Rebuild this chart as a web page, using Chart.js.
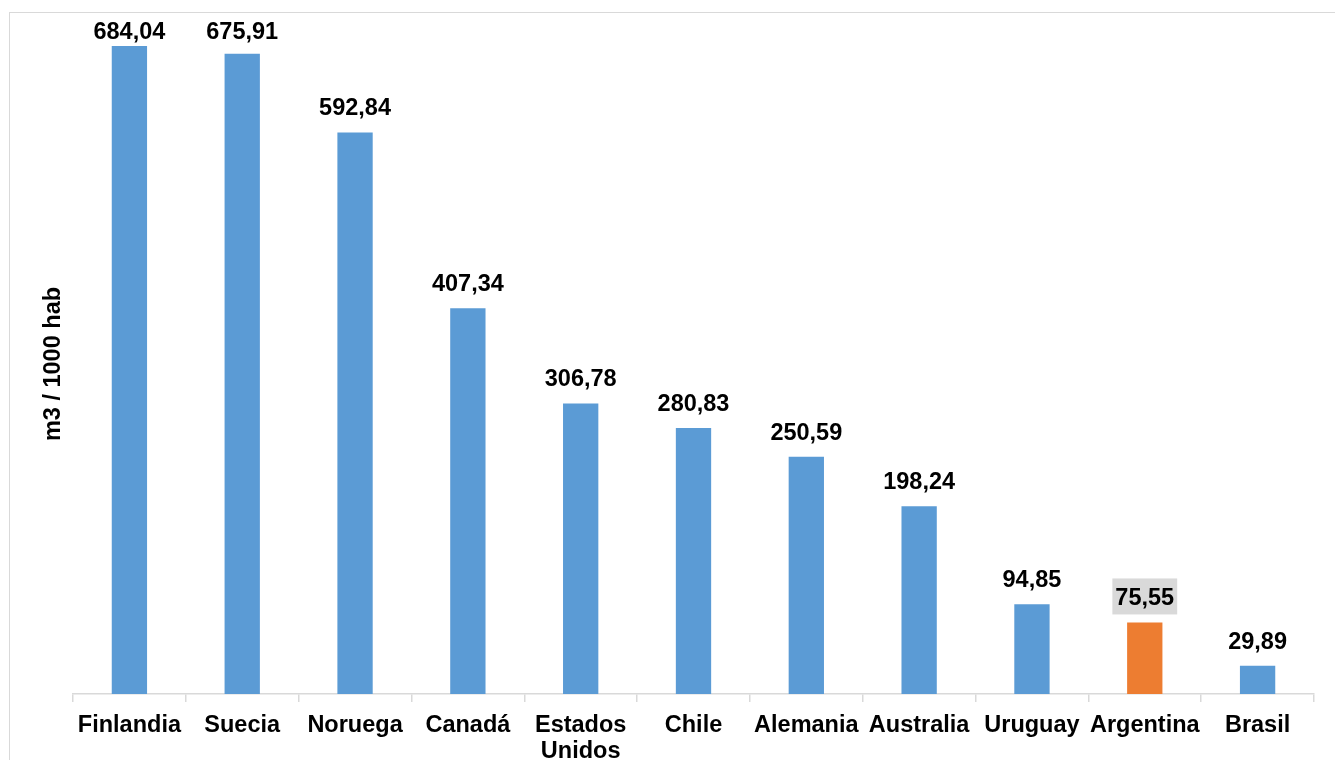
<!DOCTYPE html>
<html>
<head>
<meta charset="utf-8">
<script src="https://cdn.jsdelivr.net/npm/chart.js@4/dist/chart.umd.min.js"></script>
<style>
  html, body { margin: 0; padding: 0; background: #fff; }
  canvas { display: block; }
</style>
</head>
<body>
<canvas id="chart" width="1335" height="760"></canvas>
<script>
const countries = ['Finlandia', 'Suecia', 'Noruega', 'Canadá', ['Estados', 'Unidos'], 'Chile', 'Alemania', 'Australia', 'Uruguay', 'Argentina', 'Brasil'];
const values = [684.04, 675.91, 592.84, 407.34, 306.78, 280.83, 250.59, 198.24, 94.85, 75.55, 29.89];
const highlighted = 'Argentina';
const yTitle = 'm3 / 1000 hab';

const FONT = '"Liberation Sans", Arial, sans-serif';
const BLUE = '#5B9BD5';
const ORANGE = '#ED7D31';
const LIGHT = '#D9D9D9';

const barColors = countries.map(c => c === highlighted ? ORANGE : BLUE);

function fmt(v) {
    return v.toFixed(2).replace('.', ',');
}

// etiquetas de valor, titulo del eje y marco
const extras = {
    id: 'extras',
    beforeDraw(chart) {
        const ctx = chart.ctx;
        ctx.save();
        ctx.strokeStyle = LIGHT;
        ctx.lineWidth = 1;
        ctx.strokeRect(9.5, 12.5, 2000, 2000);
        ctx.restore();
    },
    afterDraw(chart) {
        const ctx = chart.ctx;
        const meta = chart.getDatasetMeta(0);
        ctx.save();
        ctx.font = 'bold 23.5px ' + FONT;
        ctx.textAlign = 'center';
        ctx.textBaseline = 'alphabetic';
        meta.data.forEach((bar, i) => {
            const text = fmt(values[i]);
            const y = Math.max(bar.y - 17, 39);
            if (countries[i] === highlighted) {
                const w = ctx.measureText(text).width + 6;
                ctx.fillStyle = LIGHT;
                ctx.fillRect(bar.x - w / 2, y - 27, w, 36);
            }
            ctx.fillStyle = '#000';
            ctx.fillText(text, bar.x, y);
        });

        // titulo del eje y
        ctx.translate(54, 364);
        ctx.rotate(-Math.PI / 2);
        ctx.textBaseline = 'middle';
        ctx.fillText(yTitle, 0, 0);
        ctx.restore();
    }
};

new Chart(document.getElementById('chart'), {
    type: 'bar',
    data: {
        labels: countries,
        datasets: [{
            data: values,
            backgroundColor: barColors,
            borderWidth: 0,
            barPercentage: 0.313,
            categoryPercentage: 1
        }]
    },
    options: {
        responsive: false,
        animation: false,
        layout: { padding: { left: 73, right: 21, top: 31, bottom: 0 } },
        plugins: {
            legend: { display: false },
            tooltip: { enabled: false }
        },
        scales: {
            y: { display: false, min: 0, max: 700 },
            x: {
                afterFit(scale) { scale.height = 66; },
                grid: {
                    offset: true,
                    drawOnChartArea: false,
                    tickLength: 8,
                    color: LIGHT,
                    lineWidth: 1.5
                },
                border: { color: LIGHT, width: 1.5 },
                ticks: {
                    color: '#000',
                    padding: 11,
                    maxRotation: 0,
                    autoSkip: false,
                    font: { family: FONT, size: 23.5, weight: 'bold', lineHeight: 1.1 }
                }
            }
        }
    },
    plugins: [extras]
});
</script>
</body>
</html>
